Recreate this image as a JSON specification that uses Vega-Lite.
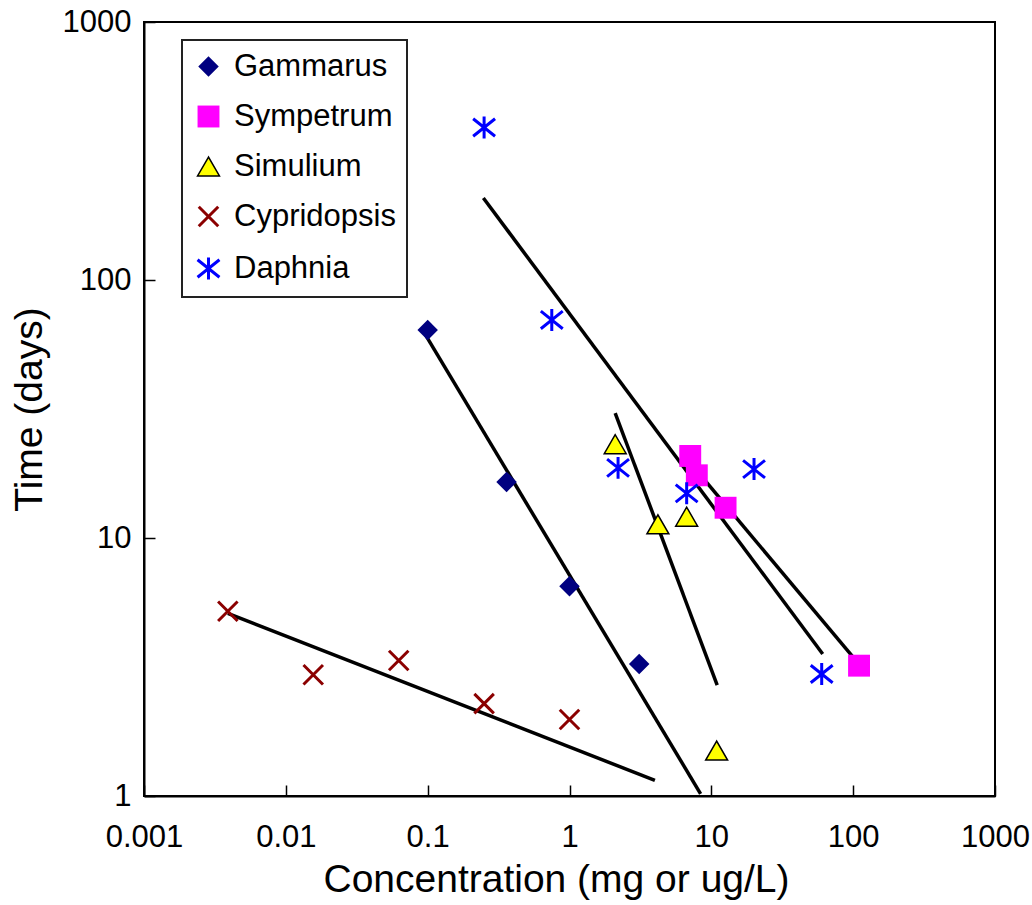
{
  "$schema": "https://vega.github.io/schema/vega-lite/v6.json",
  "width": 851,
  "height": 774,
  "autosize": "none",
  "padding": {"left": 144, "top": 22, "right": 37, "bottom": 109},
  "background": "#ffffff",
  "config": {
    "view": {"stroke": "#000000", "strokeWidth": 2},
    "font": "Liberation Sans",
    "axis": {
      "grid": false,
      "domainColor": "#000000",
      "domainWidth": 2,
      "tickColor": "#000000",
      "tickWidth": 1.5,
      "tickSize": -11,
      "labelFont": "Liberation Sans",
      "labelFontSize": 31,
      "labelColor": "#000000",
      "labelFlush": false,
      "labelOverlap": false,
      "labelBound": false,
      "titleFont": "Liberation Sans",
      "titleFontSize": 39,
      "titleFontWeight": "normal",
      "titleColor": "#000000"
    },
    "legend": {
      "orient": "none",
      "legendX": 38,
      "legendY": 18,
      "title": null,
      "strokeColor": "#222222",
      "strokeWidth": 2,
      "padding": 11,
      "labelFont": "Liberation Sans",
      "labelFontSize": 31,
      "labelColor": "#000000",
      "labelLimit": 400,
      "rowPadding": 18,
      "labelOffset": 10,
      "symbolOpacity": 1
    }
  },
  "datasets": {
    "points": [
      {"species": "Gammarus", "conc": 0.1, "time": 64},
      {"species": "Gammarus", "conc": 0.36, "time": 16.5},
      {"species": "Gammarus", "conc": 1.0, "time": 6.5},
      {"species": "Gammarus", "conc": 3.1, "time": 3.25},
      {"species": "Sympetrum", "conc": 7.1, "time": 20.8},
      {"species": "Sympetrum", "conc": 7.9, "time": 17.5},
      {"species": "Sympetrum", "conc": 12.6, "time": 13.1},
      {"species": "Sympetrum", "conc": 110, "time": 3.2},
      {"species": "Simulium", "conc": 2.1, "time": 23.1},
      {"species": "Simulium", "conc": 4.2, "time": 11.3},
      {"species": "Simulium", "conc": 6.7, "time": 12.1},
      {"species": "Simulium", "conc": 10.9, "time": 1.5},
      {"species": "Cypridopsis", "conc": 0.0039, "time": 5.2},
      {"species": "Cypridopsis", "conc": 0.0156, "time": 2.95},
      {"species": "Cypridopsis", "conc": 0.0625, "time": 3.35},
      {"species": "Cypridopsis", "conc": 0.25, "time": 2.28},
      {"species": "Cypridopsis", "conc": 1.0, "time": 1.98},
      {"species": "Daphnia", "conc": 0.25, "time": 390},
      {"species": "Daphnia", "conc": 0.75, "time": 70},
      {"species": "Daphnia", "conc": 2.2, "time": 18.7},
      {"species": "Daphnia", "conc": 6.7, "time": 14.9},
      {"species": "Daphnia", "conc": 20, "time": 18.5},
      {"species": "Daphnia", "conc": 60, "time": 2.97}
    ],
    "fits": [
      {"fit": "Cypridopsis", "conc": 0.0039, "time": 5.1},
      {"fit": "Cypridopsis", "conc": 4.0, "time": 1.15},
      {"fit": "Gammarus", "conc": 0.097, "time": 61},
      {"fit": "Gammarus", "conc": 8.4, "time": 1.02},
      {"fit": "Simulium", "conc": 2.1, "time": 30.5},
      {"fit": "Simulium", "conc": 11, "time": 2.69},
      {"fit": "Daphnia", "conc": 0.247, "time": 208},
      {"fit": "Daphnia", "conc": 61, "time": 3.55},
      {"fit": "Sympetrum", "conc": 7.13, "time": 19.5},
      {"fit": "Sympetrum", "conc": 111, "time": 3.22}
    ]
  },
  "layer": [
    {
      "data": {"name": "fits"},
      "mark": {"type": "line", "color": "#000000", "strokeWidth": 3.5},
      "encoding": {
        "x": {
          "field": "conc", "type": "quantitative",
          "scale": {"type": "log", "domain": [0.001, 1000]},
          "axis": {"values": [0.001, 0.01, 0.1, 1, 10, 100, 1000], "format": "~g", "labelPadding": 37, "titlePadding": 8, "titleX": 412, "title": "Concentration (mg or ug/L)"}
        },
        "y": {
          "field": "time", "type": "quantitative",
          "scale": {"type": "log", "domain": [1, 1000]},
          "axis": {"values": [1, 10, 100, 1000], "format": "~g", "labelPadding": 24, "titlePadding": 13, "title": "Time (days)"}
        },
        "detail": {"field": "fit", "type": "nominal"}
      }
    },
    {
      "data": {"name": "points"},
      "mark": {"type": "point", "filled": true, "opacity": 1},
      "encoding": {
        "x": {"field": "conc", "type": "quantitative"},
        "y": {"field": "time", "type": "quantitative"},
        "shape": {
          "field": "species", "type": "nominal",
          "scale": {"domain": ["Gammarus", "Sympetrum", "Simulium", "Cypridopsis", "Daphnia"],
                    "range": ["diamond", "square", "triangle-up", "M-1,-1L1,1M-1,1L1,-1", "M-1,-0.8L1,0.8M-1,0.8L1,-0.8M0,-1L0,1"]}
        },
        "fill": {
          "field": "species", "type": "nominal",
          "scale": {"domain": ["Gammarus", "Sympetrum", "Simulium", "Cypridopsis", "Daphnia"],
                    "range": ["#000080", "#ff00ff", "#ffff00", "#8b0000", "#0000ff"]}
        },
        "stroke": {
          "field": "species", "type": "nominal",
          "scale": {"domain": ["Gammarus", "Sympetrum", "Simulium", "Cypridopsis", "Daphnia"],
                    "range": ["#000080", "#ff00ff", "#000000", "#8b0000", "#0000ff"]}
        },
        "strokeWidth": {
          "field": "species", "type": "nominal",
          "scale": {"type": "ordinal", "domain": ["Gammarus", "Sympetrum", "Simulium", "Cypridopsis", "Daphnia"],
                    "range": [0, 0, 1.5, 3, 3]}
        },
        "size": {
          "field": "species", "type": "nominal",
          "scale": {"type": "ordinal", "domain": ["Gammarus", "Sympetrum", "Simulium", "Cypridopsis", "Daphnia"],
                    "range": [420, 480, 480, 380, 480]}
        }
      }
    }
  ]
}
